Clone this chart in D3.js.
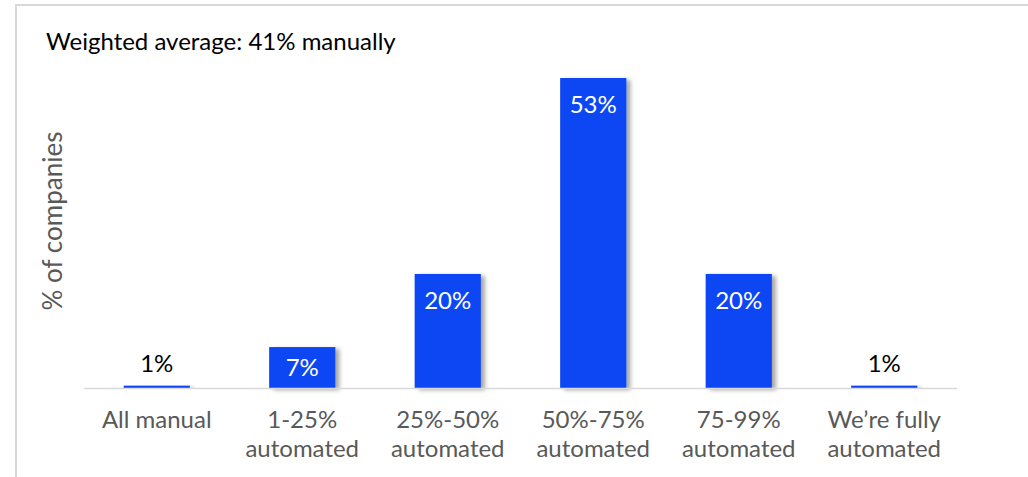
<!DOCTYPE html>
<html><head><meta charset="utf-8">
<script src="https://cdn.jsdelivr.net/npm/d3@7"></script>
<style>
html,body{margin:0;padding:0;background:#fff;}
text{font-family:Lato, sans-serif;font-weight:400;}
</style></head>
<body><svg id="c" width="1028" height="477"></svg>
<script>
const categories = [["All manual"],["1-25%","automated"],["25%-50%","automated"],["50%-75%","automated"],["75-99%","automated"],["We’re fully","automated"]];
const values = [0.4,7,19.5,53,19.5,0.4];
const valueLabels = ["1%","7%","20%","53%","20%","1%"];
const title = "Weighted average: 41% manually";
const yTitle = "% of companies";

const svg = d3.select("#c");
const defs = svg.append("defs");
const f = defs.append("filter").attr("id","sh").attr("x","-20%").attr("y","-20%").attr("width","150%").attr("height","150%");
f.append("feDropShadow").attr("dx",4).attr("dy",2).attr("stdDeviation",2).attr("flood-color","#000").attr("flood-opacity",0.35);

// frame
svg.append("line").attr("x1",15).attr("x2",1028).attr("y1",5).attr("y2",5).attr("stroke","#d9d9d9").attr("stroke-width",2);
svg.append("line").attr("x1",16).attr("x2",16).attr("y1",4).attr("y2",477).attr("stroke","#d9d9d9").attr("stroke-width",2);

const x = d3.scaleBand().domain(d3.range(values.length)).range([84,957]).paddingInner(0.545).paddingOuter(0.2725);
const y = d3.scaleLinear().domain([0,53]).range([388,78]);

svg.append("g").selectAll("rect").data(values).join("rect")
  .attr("x",(d,i)=>x(i)).attr("width",x.bandwidth())
  .attr("y",d=>y(d)).attr("height",d=>y(0)-y(d))
  .attr("fill","#0b47f4").attr("filter","url(#sh)");

svg.append("line").attr("x1",84).attr("x2",957).attr("y1",388.5).attr("y2",388.5).attr("stroke","#d9d9d9").attr("stroke-width",1.5);

svg.append("g").selectAll("text").data(values).join("text")
  .attr("x",(d,i)=>x(i)+x.bandwidth()/2)
  .attr("y",d=> d>=5 ? Math.min(y(d)+35, (y(d)+y(0))/2+8.5) : y(d)-14)
  .attr("text-anchor","middle").attr("font-size",24)
  .attr("fill",d=> d>=5 ? "#fff" : "#000")
  .text((d,i)=>valueLabels[i]);

const xl = svg.append("g");
categories.forEach((c,i)=>{
  const t = xl.append("text").attr("x",x(i)+x.bandwidth()/2).attr("y",428).attr("text-anchor","middle").attr("font-size",24).attr("fill","#595959");
  c.forEach((s,j)=> t.append("tspan").attr("x",x(i)+x.bandwidth()/2).attr("dy",j?29:0).text(s));
});

svg.append("text").attr("transform","translate(62,221) rotate(-90)").attr("text-anchor","middle").attr("font-size",26).attr("fill","#595959").text(yTitle);
svg.append("text").attr("x",46).attr("y",50).attr("font-size",24).attr("fill","#000").text(title);
</script></body></html>
